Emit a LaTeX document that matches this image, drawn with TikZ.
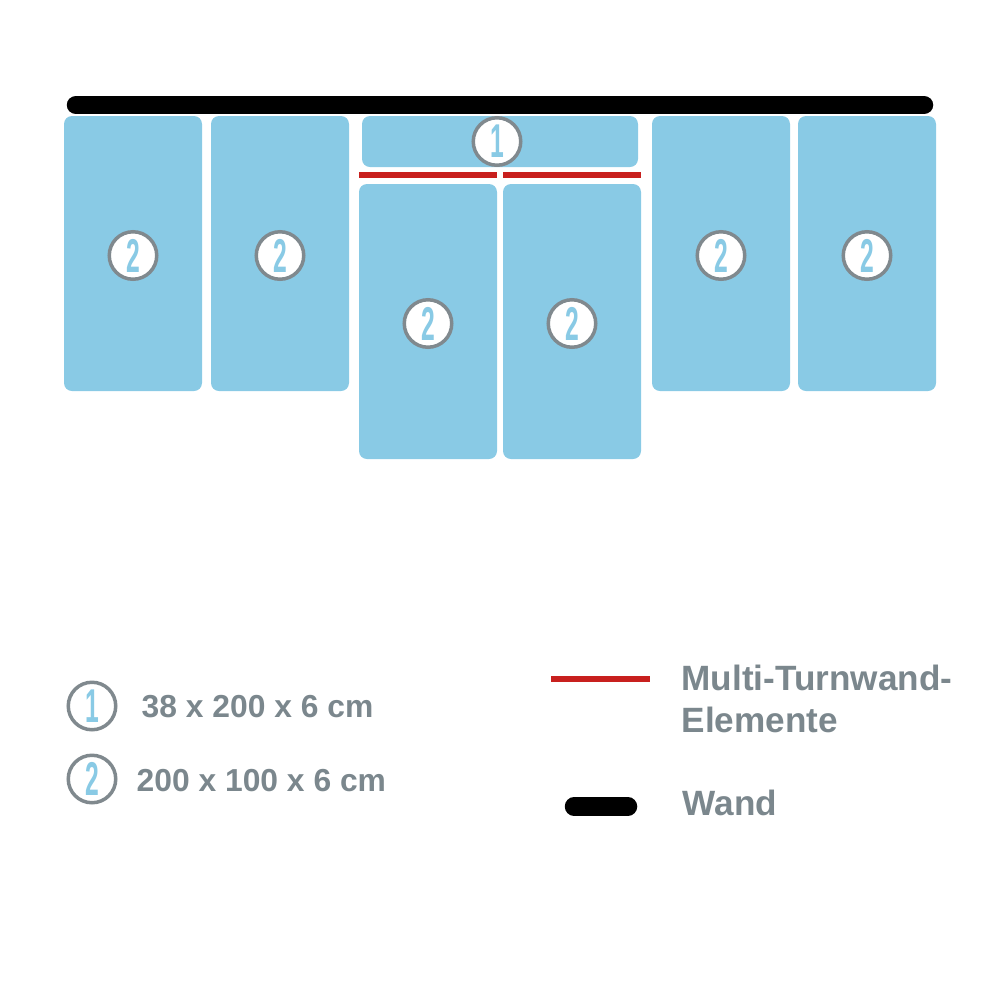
\documentclass[tikz,border=0pt]{standalone}
\usepackage{graphicx}
\usepackage{fontspec}
\setmainfont{Liberation Sans}
\usetikzlibrary{positioning}
\definecolor{panelblue}{HTML}{89CAE5}
\definecolor{ringgray}{HTML}{80898E}
\definecolor{textgray}{HTML}{7B878D}
\definecolor{beamred}{HTML}{C8201E}
\newcommand{\slim}[1]{\scalebox{0.52}[1]{#1}}
\tikzset{x=0.1mm, y=-0.1mm,
    panel/.style={rectangle, rounded corners=0.8mm, fill=panelblue,
        minimum width=13.8mm, minimum height=27.5mm, inner sep=0},
    toppanel/.style={panel, minimum width=27.6mm, minimum height=5.1mm},
    nr/.style={circle, draw=ringgray, line width=0.35mm, fill=white,
        minimum size=4.75mm, inner sep=0, text=panelblue,
        font=\bfseries\fontsize{13.5}{13.5}\selectfont},
    wall/.style={line width=1.85mm, line cap=round},
    beam/.style={draw=beamred, line width=0.6mm},
    legend/.style={text=textgray, font=\bfseries\fontsize{9.05}{11.8}\selectfont,
        anchor=base west, inner sep=0, align=left},
    biglegend/.style={legend, font=\bfseries\fontsize{10}{11.8}\selectfont}}
\begin{document}
\begin{tikzpicture}
\useasboundingbox (0,0) rectangle (1000,1000);

% wall
\coordinate (wl) at (76,105);
\coordinate (wr) at (924,105);
\draw[wall] (wl) -- (wr);

% panels
\node[panel]    (p1)  at (133,253.5) {};
\node[panel]    (p2)  at (280,253.5) {};
\node[toppanel] (top) at (500,141.5) {};
\node[panel]    (p3)  at (428,321.5) {};
\node[panel]    (p4)  at (572,321.5) {};
\node[panel]    (p5)  at (721,253.5) {};
\node[panel]    (p6)  at (867,253.5) {};

% numbers
\node[nr] (n0) at ([xshift=-0.3mm]top) {\slim{1}};
\foreach \p in {p1,p2,p3,p4,p5,p6}
    \node[nr] (n\p) at ([yshift=-0.2mm]\p) {\slim{2}};

% multi-turnwand elements
\draw[beam] ([shift={(0.1mm,0.8mm)}]p3.north west) -- ([shift={(-0.1mm,0.8mm)}]p3.north east);
\draw[beam] ([shift={(0.1mm,0.8mm)}]p4.north west) -- ([shift={(-0.1mm,0.8mm)}]p4.north east);

% legend
\node[nr] (l1) at (92,706) {\slim{1}};
\node[nr] (l2) at (92,779) {\slim{2}};
\node[legend] (t1) at (141,717) {38 x 200 x 6 cm};
\node[legend] (t2) at (136,791) {200 x 100 x 6 cm};

\coordinate (ra) at (551,678.5);
\coordinate (rb) at (650,678.5);
\draw[beam] (ra) -- (rb);
\node[biglegend] (t3) at (681,732) {Multi-Turnwand-\\Elemente};

\coordinate (wa) at (574,806.5);
\coordinate (wb) at (628,806.5);
\draw[wall] (wa) -- (wb);
\node[biglegend] (t4) at (682,815) {Wand};
\end{tikzpicture}
\end{document}
